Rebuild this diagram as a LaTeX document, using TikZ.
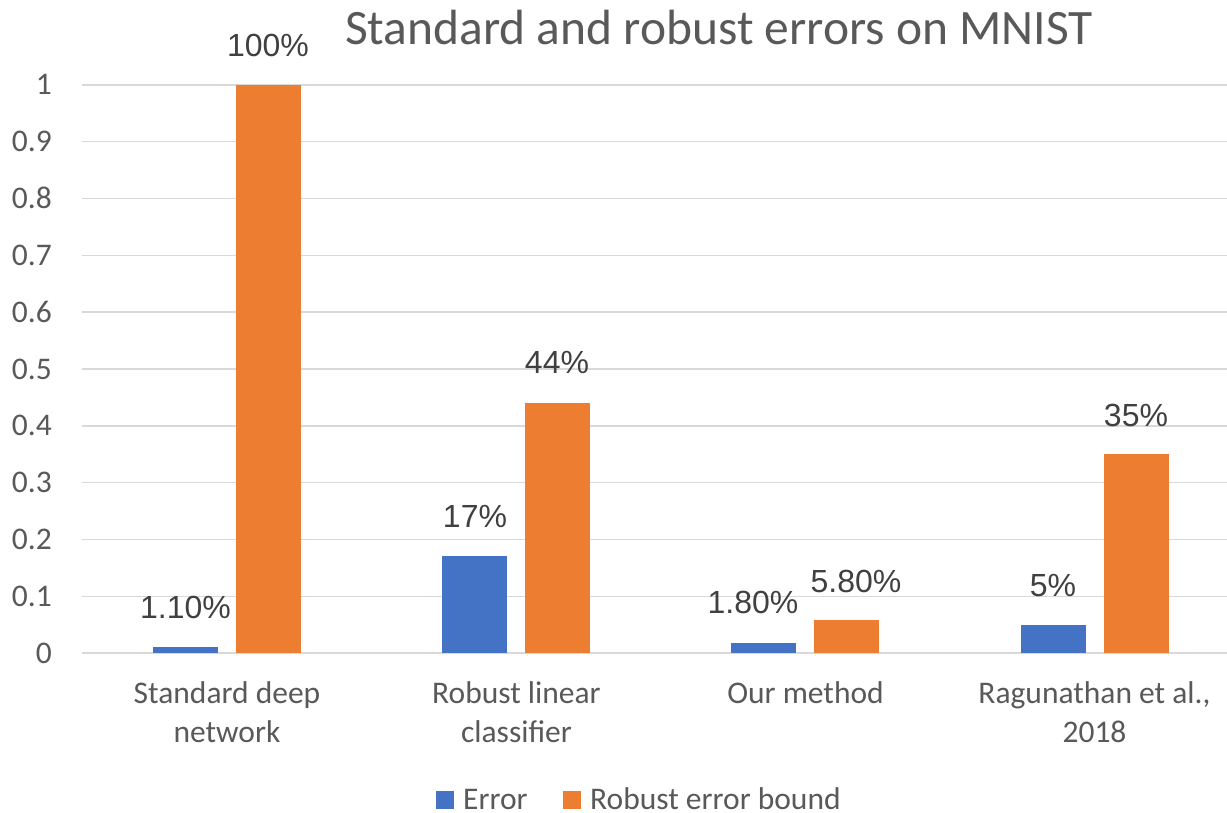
\documentclass[tikz,border=0pt]{standalone}
\usepackage{fontspec}
\setmainfont{Carlito}
\newfontfamily\arialfont{Liberation Sans}
\definecolor{barblue}{HTML}{4472C4}
\definecolor{barorange}{HTML}{ED7D31}
\definecolor{gridgray}{HTML}{D9D9D9}
\definecolor{axisgray}{HTML}{595959}
\definecolor{datagray}{HTML}{404040}
\begin{document}
\begin{tikzpicture}[x=1pt,y=-1pt,
  gridline/.style={draw=gridgray,line width=1.4pt},
  ytick/.style={anchor=base east,inner sep=0pt,text=axisgray,font=\fontsize{31.5}{38}\selectfont},
  catlbl/.style={anchor=base,inner sep=0pt,text=axisgray,font=\fontsize{31.5}{38}\selectfont},
  datalbl/.style={anchor=base,inner sep=0pt,text=datagray,font=\arialfont\fontsize{32}{38}\selectfont},
  legtext/.style={anchor=base west,inner sep=0pt,text depth=0pt,text=axisgray,font=\fontsize{31.5}{38}\selectfont},
  titletext/.style={anchor=base,inner sep=0pt,text=axisgray,font=\fontsize{49.5}{58}\selectfont},
  errbar/.style={fill=barblue},
  robbar/.style={fill=barorange}]
\useasboundingbox (0,0) rectangle (1227,813);
\fill[white] (0,0) rectangle (1227,813);
% gridlines and y tick labels
\foreach \k/\t in {0/0,1/0.1,2/0.2,3/0.3,4/0.4,5/0.5,6/0.6,7/0.7,8/0.8,9/0.9,10/1} {
  \pgfmathsetmacro{\yy}{653-56.8*\k}
  \draw[gridline] (82,\yy) -- (1227,\yy);
  \node[ytick] (ytick\k) at (52,\yy+10) {\t};
}
% bars
\foreach \i/\e/\r in {0/0.011/1.0,1/0.17/0.44,2/0.018/0.058,3/0.05/0.35} {
  \pgfmathsetmacro{\c}{227+289.2*\i}
  \pgfmathsetmacro{\et}{653-568*\e}
  \pgfmathsetmacro{\rt}{653-568*\r}
  \fill[errbar] (\c-74,\et) rectangle (\c-9,653);
  \fill[robbar] (\c+9,\rt) rectangle (\c+74,653);
}
% data labels
\node[datalbl] (d1e) at (185.5,618) {1.10\%};
\node[datalbl] (d1r) at (268,57) {100\%};
\node[datalbl] (d2e) at (475,527) {17\%};
\node[datalbl] (d2r) at (557,373) {44\%};
\node[datalbl] (d3e) at (753,613) {1.80\%};
\node[datalbl] (d3r) at (856,592) {5.80\%};
\node[datalbl] (d4e) at (1053,596) {5\%};
\node[datalbl] (d4r) at (1136,426) {35\%};
% category labels
\node[catlbl] (c1a) at (227,703) {Standard deep};
\node[catlbl] (c1b) at (227,742) {network};
\node[catlbl] (c2a) at (516.5,703) {Robust linear};
\node[catlbl] (c2b) at (516.5,742) {classifier};
\node[catlbl] (c3a) at (805.5,703) {Our method};
\node[catlbl] (c4a) at (1094.5,703) {Ragunathan et al.,};
\node[catlbl] (c4b) at (1094.5,742) {2018};
% title
\node[titletext] (title) at (719,45) {Standard and robust errors on MNIST};
% legend
\fill[barblue] (436,791) rectangle (454,809);
\node[legtext] (legerr) at (463,809) {Error};
\fill[barorange] (563,791) rectangle (581,809);
\node[legtext] (legrob) at (590,809) {Robust error bound};
\end{tikzpicture}
\end{document}
